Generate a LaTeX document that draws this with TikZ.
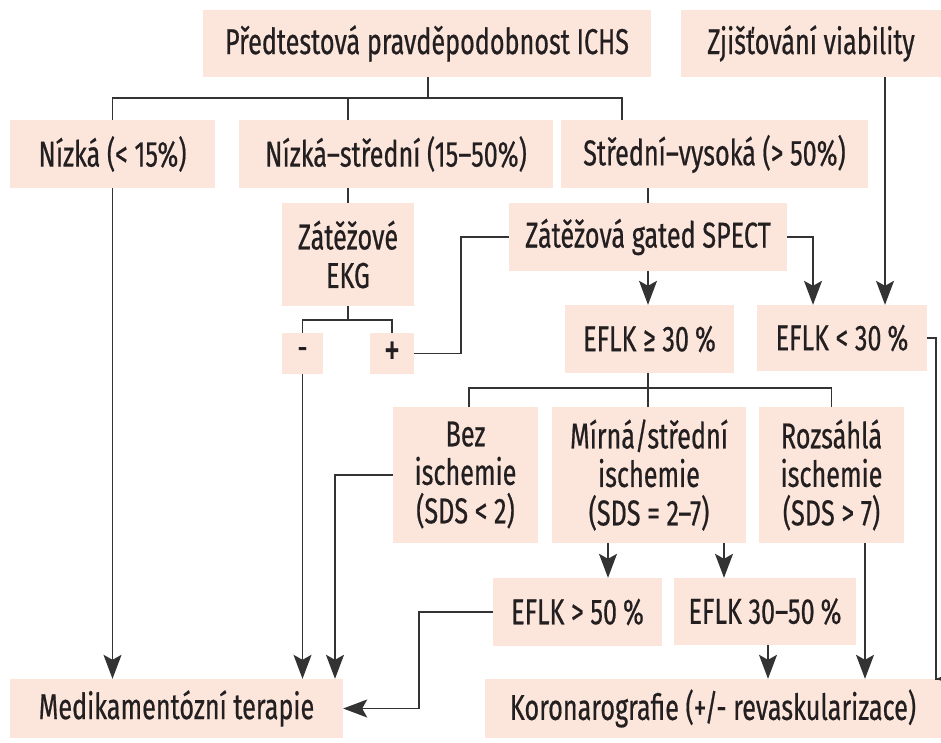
\documentclass[tikz,border=0pt]{standalone}
\usepackage{fontspec}
\setmainfont{Fira Sans}[FakeStretch=0.70, FakeBold=0.5]
\usetikzlibrary{arrows.meta}
\definecolor{boxfill}{HTML}{FCE6DC}
\definecolor{linegray}{HTML}{333333}
\definecolor{txtcol}{HTML}{231F20}

\begin{document}
\begin{tikzpicture}[
  x=1pt, y=-1pt,
  box/.style={fill=boxfill, text=txtcol, inner sep=0pt, align=center, font=\fontsize{36}{38.5}\selectfont},
  conn/.style={draw=linegray, line width=1.5pt},
  arr/.style={conn, -{Stealth[length=24pt, width=18pt, inset=5pt]}}
]
\useasboundingbox (0,0) rectangle (941,742);

% top row
\node[box, minimum width=448pt, minimum height=67pt] (pre) at (427,43.5) {Předtestová pravděpodobnost ICHS};
\node[box, minimum width=260pt, minimum height=67pt] (via) at (811,43.5) {Zjišťování viability};

% pretest probability
\node[box, minimum width=205pt, minimum height=68pt] (low) at (112.5,154) {Nízká (< 15\%)};
\node[box, minimum width=314pt, minimum height=68pt] (lowmid) at (396,154) {Nízká–střední (15–50\%)};
\node[box, minimum width=307pt, minimum height=68pt] (midhigh) at (714.5,154) {Střední–vysoká (> 50\%)};

% tests
\node[box, minimum width=132pt, minimum height=103pt] (ekg) at (348,254.5) {Zátěžové\\EKG};
\node[box, minimum width=278pt, minimum height=68pt] (spect) at (648,237) {Zátěžová gated SPECT};
\node[box, minimum width=41pt, minimum height=41pt] (neg) at (302.5,353.5) {-};
\node[box, minimum width=44pt, minimum height=41pt, font=\fontsize{46}{46}\selectfont] (pos) at (392,353.5) {+};
\node[box, minimum width=169pt, minimum height=68pt] (efhi) at (649.5,339) {EFLK ≥ 30\,\%};
\node[box, minimum width=170pt, minimum height=66pt] (eflo) at (842,338) {EFLK < 30\,\%};

% ischemia
\node[box, minimum width=145pt, minimum height=136pt] (bez) at (465.5,475) {Bez\\ischemie\\(SDS < 2)};
\node[box, minimum width=194pt, minimum height=136pt] (mirna) at (649,475) {Mírná/střední\\ischemie\\(SDS = 2–7)};
\node[box, minimum width=145pt, minimum height=136pt] (rozs) at (831.5,475) {Rozsáhlá\\ischemie\\(SDS > 7)};
\node[box, minimum width=169pt, minimum height=68pt] (ef50) at (577.5,612) {EFLK > 50\,\%};
\node[box, minimum width=182pt, minimum height=67pt] (ef3050) at (765,611.5) {EFLK 30–50\,\%};

% outcomes
\node[box, minimum width=333pt, minimum height=59pt] (medik) at (176.5,708.5) {Medikamentózní terapie};
\node[box, minimum width=456pt, minimum height=59pt] (koro) at (713,708.5) {Koronarografie (+/- revaskularizace)};

\coordinate (bus) at (428,98);
\coordinate (ekgbus) at (348,320);
\coordinate (ischbus) at (648,388);

% tree lines
\draw[conn] (pre.south -| bus) -- (bus);
\draw[conn] (low.north) |- (bus) -| ([xshift=-92.5pt]midhigh.north);
\draw[conn] (ekg.north |- bus) -- (ekg.north |- lowmid.north);
\draw[conn] (lowmid.south -| ekg.north) -- (ekg.north);
\draw[conn] (midhigh.south -| spect.north) -- (spect.north);
\draw[conn] (ekg.south) -- (ekgbus);
\draw[conn] (neg.north) |- (ekgbus) -| (pos.north);
\draw[conn] (pos.east) -- ++(47,0) |- (spect.west);
\draw[conn] (efhi.south -| ischbus) -- (ischbus);
\draw[conn] ([xshift=3.5pt]bez.north) |- (ischbus) -| (rozs.north);
\draw[conn] (mirna.north -| ischbus) -- (ischbus);

% arrows
\draw[arr] (spect.south) -- (spect.south |- efhi.north);
\draw[arr] (spect.east) -| ([xshift=-29pt]eflo.north);
\draw[arr] ([xshift=74pt]via.south) -- ([xshift=43pt]eflo.north);
\draw[arr] ([xshift=-41pt]mirna.south) -- ([xshift=-41pt]mirna.south |- ef50.north);
\draw[arr] ([xshift=75pt]mirna.south) -- ([xshift=75pt]mirna.south |- ef3050.north);
\draw[arr] ([xshift=33.5pt]rozs.south) -- ([xshift=33.5pt]rozs.south |- koro.north);
\draw[arr] (eflo.east) -- ++(9,0) |- ([xshift=223pt]koro.north);
\draw[arr] ([xshift=3pt]ef3050.south) -- ([xshift=3pt]ef3050.south |- koro.north);
\draw[arr] (low.south) -- (low.south |- medik.north);
\draw[arr] (neg.south) -- (neg.south |- medik.north);
\draw[arr] (bez.west) -| ([xshift=158.5pt]medik.north);
\draw[arr] (ef50.west) -- ++(-74,0) |- (medik.east);
\end{tikzpicture}
\end{document}
